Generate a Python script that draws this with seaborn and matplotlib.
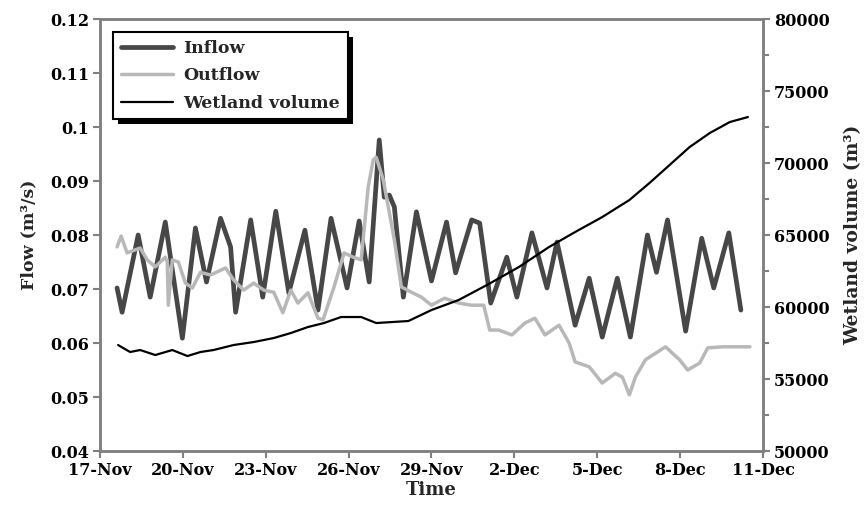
import matplotlib
matplotlib.use("Agg")
import matplotlib.pyplot as plt
import matplotlib.transforms as mtransforms
from matplotlib.patches import Rectangle
from matplotlib.ticker import MultipleLocator, FuncFormatter
import seaborn as sns
import pandas as pd

# ---------------- data (days since 17-Nov 00:00) ----------------
inflow_day = [0.618, 0.800, 1.382, 1.818, 2.364, 2.982, 3.455, 3.855, 4.364, 4.727,
              4.909, 5.455, 5.891, 6.364, 6.836, 7.418, 7.891, 8.364, 8.945, 9.382,
              9.745, 10.109, 10.291, 10.473, 10.655, 10.982, 11.455, 12.000, 12.545, 12.873,
              13.455, 13.745, 14.145, 14.727, 15.091, 15.636, 16.182, 16.545, 17.200, 17.709,
              18.182, 18.727, 19.200, 19.818, 20.145, 20.545, 21.200, 21.782, 22.218, 22.764,
              23.200]
inflow_flow = [0.0702, 0.0657, 0.0800, 0.0685, 0.0824, 0.0609, 0.0813, 0.0713, 0.0831, 0.0778,
               0.0657, 0.0828, 0.0685, 0.0844, 0.0693, 0.0809, 0.0661, 0.0831, 0.0702, 0.0826,
               0.0713, 0.0976, 0.0870, 0.0874, 0.0852, 0.0685, 0.0843, 0.0715, 0.0824, 0.0730,
               0.0828, 0.0822, 0.0674, 0.0759, 0.0685, 0.0804, 0.0702, 0.0787, 0.0633, 0.0720,
               0.0611, 0.0720, 0.0611, 0.0800, 0.0731, 0.0828, 0.0622, 0.0794, 0.0702, 0.0804,
               0.0661]

outflow_day = [0.618, 0.764, 0.982, 1.455, 1.709, 2.000, 2.364, 2.436, 2.473, 2.618,
               2.836, 3.091, 3.345, 3.636, 4.000, 4.545, 4.836, 5.200, 5.564, 5.927,
               6.291, 6.618, 6.909, 7.164, 7.527, 7.891, 8.073, 8.473, 8.836, 9.164,
               9.455, 9.709, 9.891, 10.000, 10.255, 10.436, 10.655, 10.909, 11.273, 11.636,
               12.000, 12.473, 12.982, 13.455, 13.891, 14.109, 14.436, 14.909, 15.382, 15.745,
               16.109, 16.618, 16.982, 17.200, 17.709, 18.182, 18.655, 18.909, 19.164, 19.382,
               19.745, 20.473, 20.982, 21.273, 21.709, 22.000, 22.545, 23.527]
outflow_flow = [0.0778, 0.0798, 0.0767, 0.0776, 0.0754, 0.0741, 0.0759, 0.0750, 0.0670, 0.0754,
                0.0750, 0.0711, 0.0702, 0.0731, 0.0726, 0.0739, 0.0717, 0.0698, 0.0711, 0.0698,
                0.0694, 0.0656, 0.0698, 0.0674, 0.0693, 0.0646, 0.0643, 0.0704, 0.0767, 0.0759,
                0.0754, 0.0889, 0.0939, 0.0944, 0.0902, 0.0852, 0.0791, 0.0704, 0.0694, 0.0685,
                0.0670, 0.0683, 0.0674, 0.0670, 0.0670, 0.0624, 0.0624, 0.0615, 0.0637, 0.0646,
                0.0615, 0.0633, 0.0600, 0.0565, 0.0556, 0.0526, 0.0544, 0.0537, 0.0504, 0.0537,
                0.0569, 0.0593, 0.0569, 0.0550, 0.0563, 0.0591, 0.0593, 0.0593]

volume_day = [0.655, 1.091, 1.455, 2.000, 2.618, 3.164, 3.636, 4.109, 4.836, 5.564,
              6.291, 6.909, 7.527, 8.109, 8.727, 9.455, 10.000, 11.164, 12.000, 12.982,
              14.073, 15.164, 16.255, 17.200, 18.182, 19.164, 19.891, 20.618, 21.345, 22.073,
              22.800, 23.455]
volume_m3 = [57360, 56875, 57014, 56667, 57014, 56597, 56875, 57014, 57361, 57569,
             57847, 58194, 58611, 58889, 59306, 59306, 58889, 59028, 59792, 60486,
             61597, 62778, 64167, 65208, 66250, 67431, 68611, 69861, 71111, 72083,
             72847, 73194]

tick_days = [0, 3, 6, 9, 12, 15, 18, 21, 24]
tick_labels = ["17-Nov", "20-Nov", "23-Nov", "26-Nov", "29-Nov",
               "2-Dec", "5-Dec", "8-Dec", "11-Dec"]

inflow_df = pd.DataFrame({"day": inflow_day, "flow": inflow_flow})
outflow_df = pd.DataFrame({"day": outflow_day, "flow": outflow_flow})
volume_df = pd.DataFrame({"day": volume_day, "volume": volume_m3})

# ---------------- style ----------------
sns.set_theme(style="ticks")
plt.rcParams["font.family"] = ["DejaVu Serif", "Liberation Serif"]
plt.rcParams["font.weight"] = "bold"
plt.rcParams["axes.labelweight"] = "bold"

SPINE = "#808080"

fig = plt.figure(figsize=(8.68, 5.09), dpi=100)
ax = fig.add_axes([0.1152, 0.1139, 0.7638, 0.8487])
ax2 = ax.twinx()

sns.lineplot(data=inflow_df, x="day", y="flow", ax=ax, color="#474747", lw=3.4,
             sort=False, estimator=None, legend=False)
sns.lineplot(data=outflow_df, x="day", y="flow", ax=ax, color="#b8b8b8", lw=2.5,
             sort=False, estimator=None, legend=False)
sns.lineplot(data=volume_df, x="day", y="volume", ax=ax2, color="black", lw=1.6,
             sort=False, estimator=None, legend=False)

ax.set_xlim(0, 24)
ax.set_ylim(0.04, 0.12)
ax2.set_ylim(50000, 80000)
ax.set_xticks(tick_days)
ax.set_xticklabels(tick_labels)
ax.yaxis.set_major_locator(MultipleLocator(0.01))
ax.yaxis.set_major_formatter(FuncFormatter(lambda v, p: f"{v:.2f}".rstrip("0") if abs(v - 0.1) < 1e-9 else f"{v:.2f}"))
ax2.yaxis.set_major_locator(MultipleLocator(5000))
ax2.yaxis.set_minor_locator(MultipleLocator(2500))
ax2.yaxis.set_major_formatter(FuncFormatter(lambda v, p: f"{v:.0f}"))

for a in (ax, ax2):
    for s in a.spines.values():
        s.set_color(SPINE)
        s.set_linewidth(1.8)
    a.tick_params(which="both", direction="out", color=SPINE, width=1.5, labelsize=11.5,
                  labelcolor="black", pad=3)
    a.tick_params(which="major", length=5)
    a.tick_params(which="minor", length=4)
for lab in ax.get_xticklabels() + ax.get_yticklabels() + ax2.get_yticklabels():
    lab.set_fontweight("bold")

ax.set_xlabel("Time", fontsize=13, fontweight="bold", labelpad=1)
ax.set_ylabel("Flow (m³/s)", fontsize=12.5, fontweight="bold", labelpad=9)
ax2.set_ylabel("Wetland volume (m³)", fontsize=13.5, fontweight="bold", labelpad=10)

handles = [ax.lines[0], ax.lines[1], ax2.lines[0]]
labels = ["Inflow", "Outflow", "Wetland volume"]
leg = ax2.legend(handles, labels, loc="upper left", bbox_to_anchor=(0.0196, 0.970),
                 borderaxespad=0, frameon=True, fancybox=False,
                 handlelength=3.0, handletextpad=0.6, labelspacing=0.6,
                 borderpad=0.45, prop={"weight": "bold", "size": 12.5})
leg.get_frame().set_edgecolor("black")
leg.get_frame().set_linewidth(1.5)
leg.get_frame().set_facecolor("white")
leg.get_frame().set_alpha(1)
leg.set_zorder(6)

fig.canvas.draw()
bb = leg.get_window_extent(fig.canvas.get_renderer())
shadow = Rectangle((bb.x0 + 5, bb.y0 - 5), bb.width, bb.height,
                   transform=mtransforms.IdentityTransform(), facecolor="black",
                   edgecolor="none", zorder=5.5, clip_on=False)
ax2.add_artist(shadow)

fig.savefig("out.png", dpi=100)
